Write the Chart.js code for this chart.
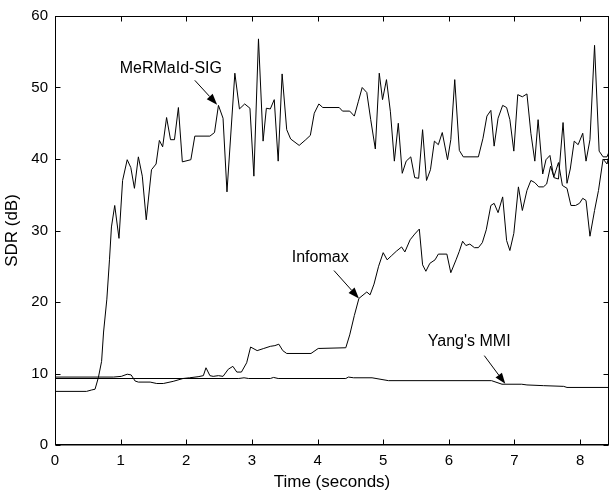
<!DOCTYPE html>
<html>
<head>
<meta charset="utf-8">
<script src="https://cdn.jsdelivr.net/npm/chart.js@4.4.1/dist/chart.umd.min.js"></script>
<style>
  html, body { margin: 0; padding: 0; background: #fff; }
  #wrap { width: 610px; height: 494px; }
</style>
</head>
<body>
<div id="wrap"><canvas id="c" width="610" height="494"></canvas></div>
<script>
// ---- Data ----
const xTickValues = [0, 1, 2, 3, 4, 5, 6, 7, 8];
const yTickValues = [0, 10, 20, 30, 40, 50, 60];

const merTime = [0, 0.48, 0.56, 0.61, 0.66, 0.71, 0.74, 0.79, 0.83, 0.86, 0.91, 0.975, 1.03, 1.10, 1.155, 1.21, 1.27, 1.33, 1.39, 1.47, 1.54, 1.59, 1.64, 1.70, 1.76, 1.82, 1.88, 1.94, 2.07, 2.13, 2.36, 2.43, 2.49, 2.56, 2.62, 2.74, 2.81, 2.89, 2.97, 3.03, 3.10, 3.17, 3.22, 3.28, 3.34, 3.40, 3.46, 3.53, 3.59, 3.72, 3.82, 3.89, 3.95, 4.02, 4.08, 4.33, 4.38, 4.49, 4.56, 4.62, 4.68, 4.75, 4.81, 4.88, 4.94, 4.99, 5.05, 5.11, 5.17, 5.23, 5.29, 5.35, 5.42, 5.48, 5.54, 5.60, 5.66, 5.72, 5.78, 5.84, 5.90, 5.98, 6.03, 6.09, 6.16, 6.22, 6.45, 6.52, 6.58, 6.64, 6.69, 6.75, 6.82, 6.88, 6.93, 6.99, 7.05, 7.12, 7.19, 7.25, 7.31, 7.36, 7.43, 7.48, 7.54, 7.60, 7.67, 7.74, 7.80, 7.85, 7.91, 7.97, 8.04, 8.09, 8.15, 8.22, 8.29, 8.35, 8.41, 8.44];
const merSDR  = [7.5, 7.5, 7.7, 7.8, 9.4, 11.7, 15.8, 20.4, 25.9, 30.5, 33.5, 28.9, 37.0, 39.9, 38.8, 35.9, 40.3, 37.6, 31.5, 38.5, 39.3, 42.6, 41.7, 45.8, 42.7, 42.7, 47.2, 39.6, 39.9, 43.2, 43.2, 43.7, 47.5, 45.7, 35.4, 52.0, 47.0, 47.7, 47.1, 37.6, 56.8, 42.5, 47.1, 47.0, 48.3, 39.7, 51.9, 44.1, 42.8, 41.9, 42.7, 43.3, 46.4, 47.7, 47.2, 47.2, 46.7, 46.7, 46.0, 48.0, 50.0, 49.3, 45.5, 41.4, 52.0, 48.3, 51.1, 46.6, 39.7, 45.0, 38.0, 39.7, 40.3, 37.4, 37.3, 44.1, 37.0, 38.5, 42.5, 42.0, 43.7, 39.9, 42.7, 51.1, 41.2, 40.3, 40.3, 42.9, 46.0, 46.8, 41.8, 45.7, 47.5, 47.2, 45.5, 41.1, 49.0, 48.7, 49.1, 43.6, 39.7, 45.5, 37.9, 39.9, 40.5, 37.4, 37.2, 45.1, 36.6, 38.6, 42.5, 42.0, 43.6, 39.7, 42.7, 55.9, 41.1, 40.3, 40.3, 41.0];

const infoTime = [0, 0.89, 1.01, 1.10, 1.16, 1.22, 1.27, 1.45, 1.55, 1.65, 1.80, 1.95, 2.05, 2.18, 2.26, 2.30, 2.36, 2.41, 2.49, 2.56, 2.64, 2.71, 2.77, 2.84, 2.92, 2.98, 3.08, 3.18, 3.28, 3.35, 3.41, 3.47, 3.53, 3.90, 4.01, 4.43, 4.49, 4.56, 4.63, 4.75, 4.80, 4.86, 4.93, 5.00, 5.06, 5.13, 5.20, 5.28, 5.33, 5.41, 5.48, 5.55, 5.60, 5.65, 5.71, 5.79, 5.84, 5.97, 6.03, 6.11, 6.16, 6.21, 6.26, 6.32, 6.39, 6.45, 6.51, 6.57, 6.64, 6.69, 6.75, 6.82, 6.88, 6.93, 6.99, 7.06, 7.12, 7.19, 7.25, 7.31, 7.37, 7.44, 7.49, 7.55, 7.60, 7.67, 7.73, 7.80, 7.86, 7.93, 7.99, 8.04, 8.09, 8.15, 8.22, 8.28, 8.35, 8.41, 8.44];
const infoSDR  = [9.5, 9.5, 9.6, 9.9, 9.8, 8.95, 8.8, 8.8, 8.6, 8.6, 8.9, 9.3, 9.4, 9.55, 9.7, 10.8, 9.7, 9.6, 9.7, 9.6, 10.6, 11.0, 10.2, 10.2, 11.5, 13.7, 13.2, 13.5, 13.8, 13.9, 14.1, 13.2, 12.8, 12.8, 13.5, 13.6, 15.4, 18.1, 20.5, 21.4, 21.0, 22.5, 25.0, 26.9, 25.9, 26.5, 27.1, 27.7, 27.0, 28.7, 29.5, 30.2, 25.2, 24.3, 25.4, 25.9, 26.7, 26.7, 24.1, 25.9, 27.1, 28.5, 27.9, 28.1, 27.6, 27.6, 28.3, 30.1, 33.5, 33.8, 32.5, 34.7, 28.6, 27.2, 29.6, 36.1, 32.8, 35.6, 37.0, 36.7, 36.1, 36.1, 36.5, 39.0, 37.5, 39.5, 36.3, 35.9, 33.5, 33.5, 33.8, 34.5, 34.2, 29.2, 32.8, 35.6, 40.0, 39.3, 40.5];

const yangTime = [0, 2.80, 2.88, 2.95, 3.28, 3.33, 3.40, 4.43, 4.47, 4.55, 4.83, 5.08, 6.65, 6.81, 7.11, 7.19, 7.44, 7.75, 7.80, 8.44];
const yangSDR  = [9.3, 9.3, 9.4, 9.3, 9.3, 9.45, 9.3, 9.3, 9.5, 9.4, 9.4, 9.0, 9.0, 8.5, 8.5, 8.4, 8.3, 8.2, 8.05, 8.05];

const seriesNames = ['MeRMaId-SIG', 'Infomax', "Yang's MMI"];

// annotation placement (label centre, arrow tail, arrow tip) in data units
const notes = [
  { text: seriesNames[0], lx: 1.765, ly: 52.6, tx: 2.13, ty: 51.0, hx: 2.47, hy: 47.6 },
  { text: seriesNames[1], lx: 4.04,  ly: 26.2, tx: 4.25, ty: 24.4, hx: 4.63, hy: 20.5 },
  { text: seriesNames[2], lx: 6.31,  ly: 14.4, tx: 6.54, ty: 12.5, hx: 6.86, hy: 8.55 }
];

const FONT = '"Liberation Sans", Arial, Helvetica, sans-serif';

function pts(xs, ys) { return xs.map((x, i) => ({ x: x, y: ys[i] })); }

const framePlugin = {
  id: 'frame',
  afterDatasetsDraw(chart) {
    const { ctx, chartArea: a, scales: { x, y } } = chart;
    ctx.save();
    ctx.strokeStyle = '#000';
    ctx.lineWidth = 1;
    const L = Math.round(a.left) + 0.5, R = Math.round(a.right) - 0.5;
    const T = Math.round(a.top) + 0.5, B = Math.round(a.bottom) - 0.5;
    ctx.strokeRect(L, T, R - L, B - T);
    const tl = 5;
    ctx.beginPath();
    xTickValues.forEach(v => {
      const px = Math.round(x.getPixelForValue(v)) + 0.5;
      ctx.moveTo(px, B); ctx.lineTo(px, B - tl);
      ctx.moveTo(px, T); ctx.lineTo(px, T + tl);
    });
    yTickValues.forEach(v => {
      const py = Math.round(y.getPixelForValue(v)) + 0.5;
      ctx.moveTo(L, py); ctx.lineTo(L + tl, py);
      ctx.moveTo(R, py); ctx.lineTo(R - tl, py);
    });
    ctx.stroke();
    ctx.beginPath();
    ctx.moveTo(L, B + 0.5); ctx.lineTo(R, B + 0.5);
    ctx.stroke();

    // annotations
    ctx.fillStyle = '#000';
    ctx.font = '16px ' + FONT;
    ctx.textAlign = 'center';
    ctx.textBaseline = 'middle';
    notes.forEach(n => {
      ctx.fillText(n.text, x.getPixelForValue(n.lx), y.getPixelForValue(n.ly));
      const x0 = x.getPixelForValue(n.tx), y0 = y.getPixelForValue(n.ty);
      const x1 = x.getPixelForValue(n.hx), y1 = y.getPixelForValue(n.hy);
      const ang = Math.atan2(y1 - y0, x1 - x0);
      const hl = 11, hw = 4;
      const bx = x1 - hl * Math.cos(ang), by = y1 - hl * Math.sin(ang);
      ctx.beginPath();
      ctx.moveTo(x0, y0); ctx.lineTo(bx, by);
      ctx.stroke();
      ctx.beginPath();
      ctx.moveTo(x1, y1);
      ctx.lineTo(bx + hw * Math.sin(ang), by - hw * Math.cos(ang));
      ctx.lineTo(bx - hw * Math.sin(ang), by + hw * Math.cos(ang));
      ctx.closePath();
      ctx.fill();
    });
    ctx.restore();
  }
};

const lineStyle = { borderColor: '#000', borderWidth: 1, pointRadius: 0, tension: 0, fill: false };

new Chart(document.getElementById('c'), {
  type: 'line',
  data: {
    datasets: [
      Object.assign({ label: seriesNames[0], data: pts(merTime, merSDR) }, lineStyle),
      Object.assign({ label: seriesNames[1], data: pts(infoTime, infoSDR) }, lineStyle),
      Object.assign({ label: seriesNames[2], data: pts(yangTime, yangSDR) }, lineStyle)
    ]
  },
  options: {
    responsive: false,
    animation: false,
    devicePixelRatio: 1,
    parsing: false,
    layout: { padding: { top: 9, right: 1, left: 0, bottom: 0 } },
    plugins: { legend: { display: false }, tooltip: { enabled: false } },
    scales: {
      x: {
        type: 'linear', min: 0, max: 8.44,
        afterBuildTicks: s => { s.ticks = xTickValues.map(v => ({ value: v })); },
        afterFit: s => { s.height = 49; },
        grid: { display: false, drawTicks: false },
        border: { display: false },
        ticks: { color: '#000', font: { family: FONT, size: 15 }, padding: 7, maxRotation: 0, autoSkip: false },
        title: { display: true, text: 'Time (seconds)', color: '#000', font: { family: FONT, size: 17 }, padding: { top: 0, bottom: 1 } }
      },
      y: {
        type: 'linear', min: 0, max: 60,
        afterBuildTicks: s => { s.ticks = yTickValues.map(v => ({ value: v })); },
        afterFit: s => { s.width = 55; },
        grid: { display: false, drawTicks: false },
        border: { display: false },
        ticks: { color: '#000', font: { family: FONT, size: 15 }, padding: 7 },
        title: { display: true, text: 'SDR (dB)', color: '#000', font: { family: FONT, size: 17 }, padding: { top: 2, bottom: 0 } }
      }
    }
  },
  plugins: [framePlugin]
});
</script>
</body>
</html>
